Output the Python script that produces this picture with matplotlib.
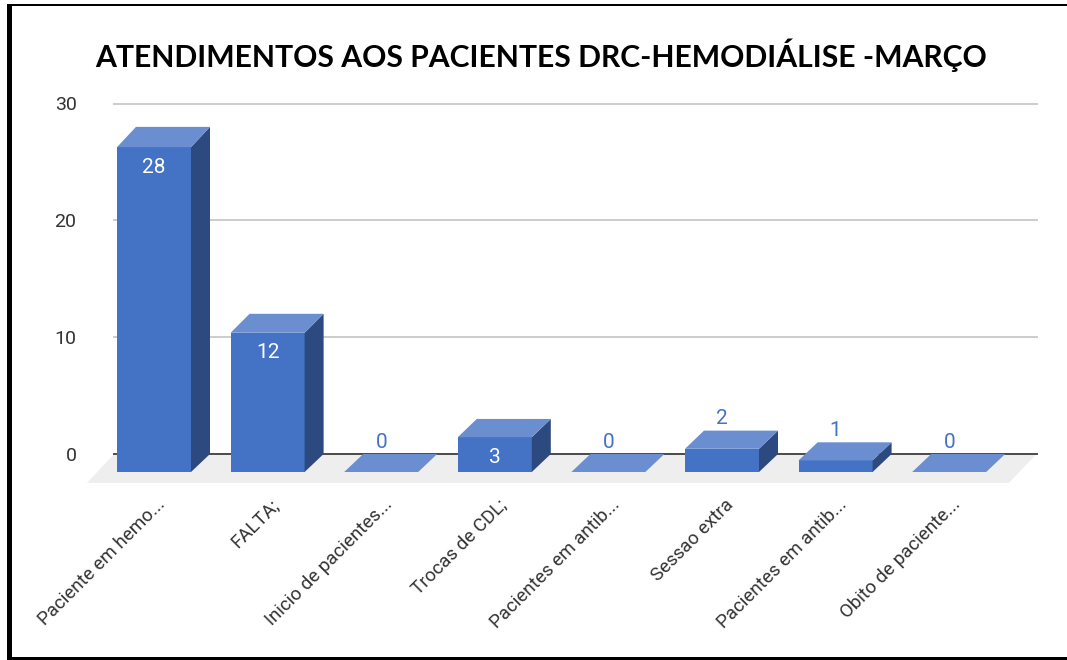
import matplotlib
matplotlib.use('Agg')
import matplotlib.pyplot as plt
from matplotlib.patches import Polygon, Rectangle

categorias = ['Paciente em hemo...', 'FALTA;', 'Inicio de pacientes...', 'Trocas de CDL;',
              'Pacientes em antib...', 'Sessao extra', 'Pacientes em antib...', 'Obito de paciente...']
valores = [28, 12, 0, 3, 0, 2, 1, 0]
y_ticks = [0, 10, 20, 30]
titulo = 'ATENDIMENTOS AOS PACIENTES DRC-HEMODIÁLISE -MARÇO'

W, H = 1067, 660
plt.rcParams['font.family'] = ['Roboto', 'DejaVu Sans']

fig = plt.figure(figsize=(W/100, H/100), dpi=100)

# axes box is the back wall of the chart
x0, x1, y_top, y_zero = 114, 1037, 103.5, 454
ax = fig.add_axes([x0/W, 1-y_zero/H, (x1-x0)/W, (y_zero-y_top)/H])
passo = 113.6
ax.set_xlim((x0-154)/passo, (x1-154)/passo)
ax.set_ylim(0, 30)
for s in ax.spines.values():
    s.set_visible(False)

px_y = (y_zero-y_top)/30
larg = 74/passo
dx = 19/passo     # depth of the 3d look
dy = 18/px_y
frente = 0.993    # front face a bit shorter than back

azul = '#4472c4'
topo = '#6a8ed0'
lado = '#2c4a80'

ax.set_yticks(y_ticks)
ax.set_yticklabels(y_ticks, fontsize=14, color='#333333')
ax.set_xticks(range(len(categorias)))
ax.set_xticklabels([])
ax.tick_params(length=0, pad=27)
for t in y_ticks[1:]:
    ax.axhline(t, color='#cccccc', lw=1.4, zorder=1, clip_on=False)
ax.axhline(0, color='#4a4a4a', lw=1.4, zorder=2, clip_on=False)

# floor
chao = Polygon([(-0.59, -29/px_y), (-0.352, 0), (7.77, 0), (7.525, -29/px_y)],
               closed=True, fc='#eeeeee', ec='none', zorder=1, clip_on=False)
ax.add_patch(chao)

for i, v in enumerate(valores):
    a, b = i-larg/2, i+larg/2
    alto = v*frente-dy
    if v > 0:
        ax.add_patch(Rectangle((a, -dy), larg, v*frente, fc=azul, ec='none', zorder=3, clip_on=False))
        ax.add_patch(Polygon([(b, -dy), (b+dx, 0), (b+dx, v), (b, alto)], fc=lado, ec='none', zorder=3, clip_on=False))
    ax.add_patch(Polygon([(a, alto), (b, alto), (b+dx, v), (a+dx, v)], fc=topo, ec='none', zorder=4, clip_on=False))
    if v >= 3:
        ax.text(i, alto-20/px_y, str(v), color='white', fontsize=15, ha='center', va='center', zorder=5)
    else:
        ax.text(i, v+12/px_y, str(v), color=azul, fontsize=15, ha='center', va='center', zorder=5)

# rotated category labels, anchored at their end
for i, nome in enumerate(categorias):
    ax.annotate(nome, (i, -dy), xytext=(1.6, -17), textcoords='offset points', rotation=45,
                rotation_mode='anchor', ha='right', va='top', fontsize=13.5, color='#333333',
                annotation_clip=False)

fig.text(541/W, 1-55/H, titulo, fontsize=21.7, fontweight='bold', family=['Lato', 'DejaVu Sans'],
         ha='center', va='center', color='black')

# screenshot frame
fig.add_artist(Rectangle((7/W, 1-660/H), 5/W, 656/H, transform=fig.transFigure, fc='black', ec='none'))
fig.add_artist(Rectangle((7/W, 1-5.5/H), 1060/W, 1.5/H, transform=fig.transFigure, fc='black', ec='none'))
fig.add_artist(Rectangle((7/W, 0), 1060/W, 3.5/H, transform=fig.transFigure, fc='black', ec='none'))

fig.savefig('out.png', dpi=100)
